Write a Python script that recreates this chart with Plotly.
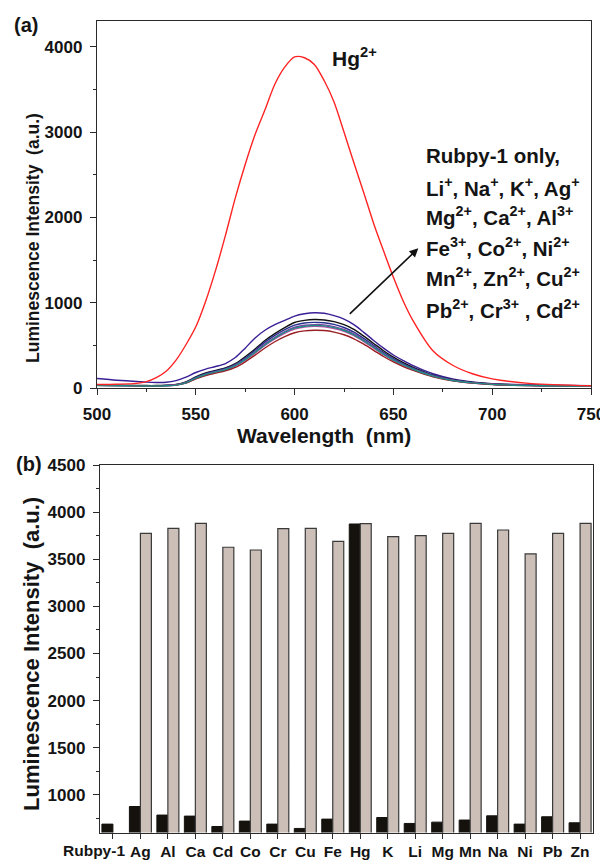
import plotly.graph_objects as go

# ---------------- data: panel (a) spectra ----------------
wavelength = [500, 510, 520, 525, 530, 535, 540, 545, 550, 555, 560, 565, 570, 575, 580, 585, 590, 595, 600,
              605, 610, 615, 620, 625, 630, 635, 640, 645, 650, 655, 660, 670, 680, 690, 700, 720, 750]

hg = [45, 48, 58, 78, 125, 200, 330, 510, 720, 1020, 1380, 1790, 2230, 2620, 2970, 3260, 3560, 3760, 3880,
      3870, 3790, 3600, 3350, 3000, 2640, 2290, 1930, 1610, 1300, 1020, 790, 440, 270, 170, 110, 55, 30]

rubpy_indigo = [115, 95, 80, 72, 68, 70, 90, 130, 185, 225, 255, 290, 360, 470, 590, 680, 745, 795, 845,
                872, 885, 878, 850, 810, 745, 655, 560, 470, 390, 325, 265, 170, 110, 75, 55, 40, 30]
ion_black = [40, 36, 33, 32, 32, 35, 45, 75, 135, 180, 210, 240, 290, 370, 460, 560, 640, 710, 770,
             795, 805, 800, 780, 745, 690, 610, 525, 440, 365, 300, 245, 155, 100, 68, 50, 35, 27]
ion_navy = [38, 34, 31, 30, 30, 33, 42, 70, 128, 172, 202, 232, 280, 355, 445, 540, 620, 688, 740,
            765, 772, 768, 748, 712, 658, 585, 502, 420, 348, 287, 235, 150, 97, 66, 48, 34, 26]
ion_purple = [36, 33, 30, 29, 29, 32, 40, 66, 122, 165, 195, 224, 270, 342, 428, 520, 598, 665, 715,
              738, 746, 742, 722, 688, 636, 565, 485, 405, 335, 277, 226, 145, 94, 64, 47, 33, 25]
ion_magenta = [34, 31, 29, 28, 28, 31, 38, 63, 117, 158, 188, 216, 260, 330, 412, 502, 578, 643, 693,
               716, 725, 720, 700, 667, 616, 547, 470, 393, 325, 268, 219, 140, 91, 62, 46, 32, 25]
ion_darkred = [35, 32, 30, 29, 29, 31, 37, 60, 110, 150, 178, 205, 245, 310, 388, 472, 545, 605, 650,
               672, 680, 676, 658, 627, 580, 516, 445, 372, 308, 255, 210, 135, 88, 60, 44, 31, 24]
ion_teal = [33, 30, 28, 27, 27, 30, 37, 64, 120, 162, 192, 220, 265, 336, 420, 510, 588, 654, 704,
            727, 735, 731, 711, 677, 626, 556, 478, 400, 330, 273, 223, 143, 92, 63, 46, 32, 24]

spectra = [
    ("Rubpy-1", rubpy_indigo, "#3a1e96"),
    ("ion A", ion_black, "#111111"),
    ("ion B", ion_navy, "#28308c"),
    ("ion C", ion_purple, "#7b3fa0"),
    ("ion D", ion_magenta, "#c04aa8"),
    ("ion E", ion_darkred, "#9a1f24"),
    ("ion F", ion_teal, "#1f8c86"),
]

# ---------------- data: panel (b) bars ----------------
ions = ["Rubpy-1", "Ag", "Al", "Ca", "Cd", "Co", "Cr", "Cu", "Fe", "Hg", "K", "Li", "Mg", "Mn", "Na", "Ni", "Pb", "Zn"]
ion_only = [689, 876, 785, 774, 664, 721, 689, 643, 742, 3874, 759, 696, 710, 732, 777, 689, 767, 703]
ion_plus_hg = [None, 3775, 3828, 3881, 3627, 3598, 3824, 3828, 3690, 3877, 3739, 3750, 3775, 3881, 3810, 3556, 3775, 3881]
# first label is drawn as a separate (left-shifted) text, as in the original figure
ion_ticktext = [""] + ions[1:]

FONT = "Liberation Sans, Arial, sans-serif"
INK = "#141414"
AX = "#2a2a2a"

# page body has an 8px margin: figure is drawn 8px right/down
W, H, OFF = 600, 853, 8
def px(x):
    return (x - OFF) / W
def py(y):
    return 1 - (y - OFF) / H

fig = go.Figure()

for name, vals, col in spectra:
    fig.add_trace(go.Scatter(x=wavelength, y=vals, mode="lines", name=name,
                             line=dict(color=col, width=1.4, shape="spline", smoothing=0.8),
                             xaxis="x", yaxis="y", showlegend=False))
fig.add_trace(go.Scatter(x=wavelength, y=hg, mode="lines", name="Hg2+",
                         line=dict(color="#ff2424", width=1.4, shape="spline", smoothing=0.8),
                         xaxis="x", yaxis="y", showlegend=False))

fig.add_trace(go.Bar(x=ions, y=ion_only, name="ion", marker=dict(color="#15120e", line=dict(color="#15120e", width=1)),
                     xaxis="x2", yaxis="y2", showlegend=False))
fig.add_trace(go.Bar(x=ions, y=ion_plus_hg, name="ion + Hg", marker=dict(color="#cbbfb8", line=dict(color="#3a3a3a", width=1.2)),
                     xaxis="x2", yaxis="y2", showlegend=False))

tickfont = dict(family=FONT, size=17, color=INK, weight="bold")
axcommon = dict(showline=True, linecolor=AX, linewidth=1.3, mirror=True, showgrid=False, zeroline=False,
                ticks="outside", tickcolor=AX, tickwidth=1.3, ticklen=6, tickfont=tickfont, automargin=False)

fig.update_layout(
    width=W, height=H,
    margin=dict(l=0, r=0, t=0, b=0),
    paper_bgcolor="white", plot_bgcolor="white",
    barmode="group", bargap=0.2, bargroupgap=0,
    xaxis=dict(domain=[px(97), px(591)], anchor="y", range=[500, 750], dtick=50, tick0=500,
               ticklabelstandoff=4,
               minor=dict(ticks="outside", dtick=25, ticklen=3, tickcolor=AX, tickwidth=1.2), **axcommon),
    yaxis=dict(domain=[py(388.3), py(21)], anchor="x", range=[0, 4300], dtick=1000, tick0=0,
               ticklabelstandoff=4,
               minor=dict(ticks="outside", dtick=500, ticklen=3, tickcolor=AX, tickwidth=1.2), **axcommon),
    xaxis2=dict(domain=[px(100), px(593)], anchor="y2", type="category", range=[-0.47, 17.47],
                tickangle=0, ticklabelstandoff=0, tickmode="array", tickvals=ions, ticktext=ion_ticktext,
                **{**axcommon, "ticklen": 5, "tickfont": dict(family=FONT, size=15.5, color=INK, weight="bold")}),
    yaxis2=dict(domain=[py(832.5), py(465)], anchor="x2", range=[600, 4500], dtick=500, tick0=0,
                ticklabelstandoff=4,
                minor=dict(ticks="outside", dtick=250, ticklen=3, tickcolor=AX, tickwidth=1.2), **axcommon),
)

ann = []
def txt(x, y, s, size, xanchor="center", yanchor="middle", angle=0):
    ann.append(dict(x=px(x), y=py(y), xref="paper", yref="paper", text=s, showarrow=False,
                    xanchor=xanchor, yanchor=yanchor, textangle=angle,
                    font=dict(family=FONT, size=size, color=INK, weight="bold")))

txt(12, 25, "(a)", 20, xanchor="left")
txt(14, 464, "(b)", 20, xanchor="left")
txt(33, 238, "Luminescence Intensity\u00a0 (a.u.)", 17.5, angle=-90)
txt(31, 654, "Luminescence Intensity\u00a0 (a.u.)", 22, angle=-90)
txt(324, 435, "Wavelength\u00a0 (nm)", 21)
txt(94, 850, ions[0], 15.5)

# labels inside panel (a)
txt(330, 57, "Hg<sup>2+</sup>", 21, xanchor="left")
lines = [
    "Rubpy-1 only,",
    "Li<sup>+</sup>, Na<sup>+</sup>, K<sup>+</sup>, Ag<sup>+</sup>",
    "Mg<sup>2+</sup>, Ca<sup>2+</sup>, Al<sup>3+</sup>",
    "Fe<sup>3+</sup>, Co<sup>2+</sup>, Ni<sup>2+</sup>",
    "Mn<sup>2+</sup>, Zn<sup>2+</sup>, Cu<sup>2+</sup>",
    "Pb<sup>2+</sup>, Cr<sup>3+</sup> , Cd<sup>2+</sup>",
]
line_y = [155, 187, 216, 247, 277, 309]
for s, yv in zip(lines, line_y):
    txt(424, yv, s, 20.5, xanchor="left")

ann.append(dict(x=px(418.3), y=py(248.3), xref="paper", yref="paper", ax=-70, ay=67, axref="pixel", ayref="pixel",
                text="", showarrow=True, arrowhead=2, arrowsize=1.1, arrowwidth=1.6, arrowcolor="#111111"))

fig.update_layout(annotations=ann)
fig.write_html("out.html")
